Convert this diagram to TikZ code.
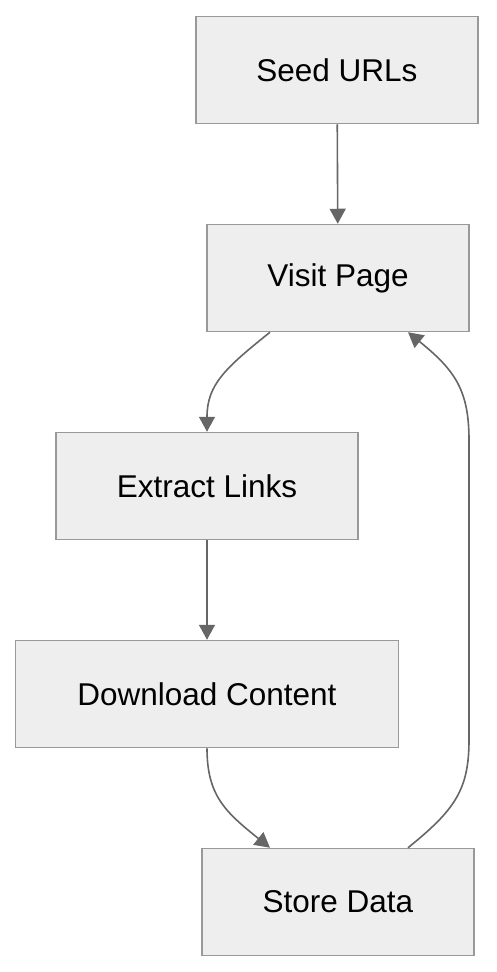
\documentclass[tikz,border=0pt]{standalone}
\usepackage{fontspec}
\setmainfont{Liberation Sans}
\usepackage{xcolor}
\usetikzlibrary{arrows.meta, calc, positioning}
\definecolor{boxfill}{HTML}{EEEEEE}
\definecolor{boxline}{HTML}{999999}
\definecolor{edgeline}{HTML}{666666}

\begin{document}
\begin{tikzpicture}[x=1pt, y=-1pt,
      font=\fontsize{31.5}{36}\selectfont,
      proc/.style={draw=boxline, fill=boxfill, line width=1.5pt,
                  align=center, inner sep=0pt, minimum height=107pt},
      arr/.style={-{Triangle[length=15pt, width=16pt]}, line width=1.6pt, edgeline}]
    \useasboundingbox (0,0) rectangle (496,972);
    \node[proc, minimum width=282pt] (seed) at (337,70) {Seed URLs};
    \node[proc, minimum width=262pt] (visit) at (338,278) {Visit Page};
    \node[proc, minimum width=302pt] (extract) at (207,486) {Extract Links};
    \node[proc, minimum width=383pt] (download) at (207,694) {Download Content};
    \node[proc, minimum width=272pt] (store) at (338,902) {Store Data};
    \draw[arr] (seed) -- (visit);
    \draw[arr] ([xshift=-68pt]visit.south) .. controls ($(visit.south)+(-113,36)$) and ($(extract.north)+(0,-47)$) .. (extract.north);
    \draw[arr] (extract) -- (download);
    \draw[arr] (download.south) .. controls ($(download.south)+(0,47)$) and ($(store.north)+(-113,-36)$) .. ([xshift=-68pt]store.north);
    \draw[arr] ([xshift=70pt]store.north) .. controls ($(store.north)+(117,-38)$) and ($(store.north)+(131,-58)$) .. ($(store.north)+(131,-108)$)
      -- ($(visit.south)+(131,108)$) .. controls ($(visit.south)+(131,58)$) and ($(visit.south)+(117,38)$) .. ([xshift=70pt]visit.south);
  \end{tikzpicture}
\end{document}
